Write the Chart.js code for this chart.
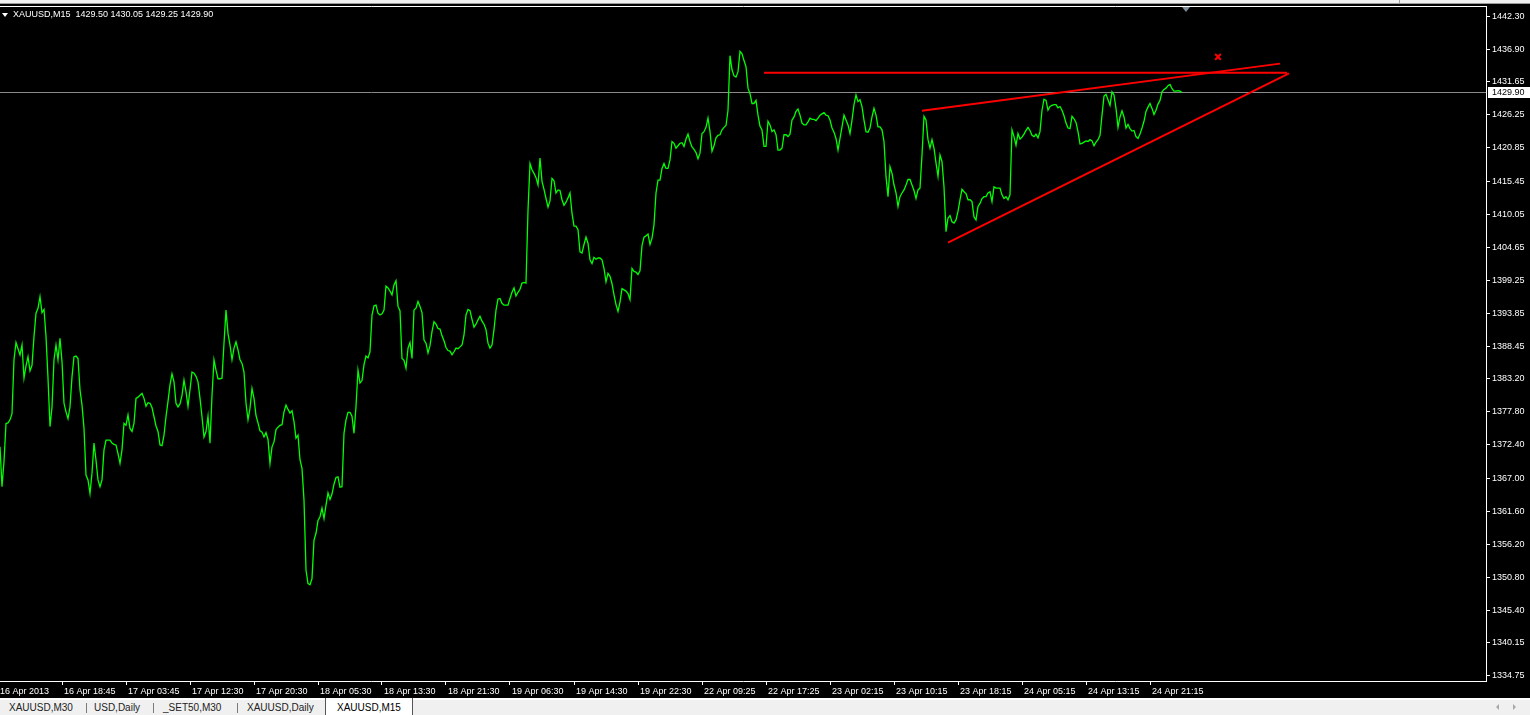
<!DOCTYPE html>
<html><head><meta charset="utf-8">
<script src="https://cdn.jsdelivr.net/npm/chart.js@4.4.1/dist/chart.umd.min.js"></script>
<style>
html,body{margin:0;padding:0;background:#000;}
body{width:1530px;height:715px;position:relative;overflow:hidden;font-family:'Liberation Sans',Arial,sans-serif;}
#wrap{position:absolute;left:0;top:0;width:1530px;height:698px;}
#topstrip{position:absolute;left:0;top:0;width:1530px;height:3px;background:#f0f0f0;border-bottom:1px solid #9a9a9a;}
#topsep{position:absolute;left:1399px;top:0;width:1px;height:3px;background:#a0a0a0;}
#title{position:absolute;left:13px;top:9px;color:#fff;font-size:9px;line-height:11px;white-space:pre;}
#tri{position:absolute;left:2px;top:13px;width:0;height:0;border-left:3px solid transparent;border-right:3px solid transparent;border-top:4px solid #fff;}
#shift{position:absolute;left:1182px;top:7px;width:0;height:0;border-left:4px solid transparent;border-right:4px solid transparent;border-top:5px solid #7d8a96;}
#tabbar{position:absolute;left:0;top:698px;width:1530px;height:15px;background:#f0f0f0;border-top:2px solid #fff;font-size:10px;color:#222;}
.tab{position:absolute;top:2px;white-space:pre;line-height:12px;}
.sep{position:absolute;top:3px;width:1px;height:10px;background:#7a7a7a;}
#active{position:absolute;left:325px;top:-2px;width:86px;height:17px;background:#fff;border-left:1px solid #555;border-right:1px solid #555;}
.arrL{position:absolute;top:4px;width:0;height:0;border-top:3px solid transparent;border-bottom:3px solid transparent;border-right:3px solid #a8a8a8;}
.arrR{position:absolute;top:4px;width:0;height:0;border-top:3px solid transparent;border-bottom:3px solid transparent;border-left:3px solid #a8a8a8;}
</style></head>
<body>
<div id="wrap"><canvas id="c"></canvas></div>
<div id="topstrip"></div><div id="topsep"></div>
<div id="tri"></div>
<div id="title">XAUUSD,M15  1429.50 1430.05 1429.25 1429.90</div>
<div id="shift"></div>
<div id="tabbar">
  <span class="tab" style="left:9px">XAUUSD,M30</span>
  <div class="sep" style="left:86px"></div>
  <span class="tab" style="left:94px">USD,Daily</span>
  <div class="sep" style="left:153px"></div>
  <span class="tab" style="left:163px">_SET50,M30</span>
  <div class="sep" style="left:237px"></div>
  <span class="tab" style="left:247px">XAUUSD,Daily</span>
  <div id="active"><span class="tab" style="left:11px;top:4px;color:#000">XAUUSD,M15</span></div>
  <div class="arrL" style="left:1496px"></div>
  <div class="arrR" style="left:1513px"></div>
</div>
<script>
// ---- data (M15 closes, one per bar) ----
const closes = [
 1372.1,1365.6,1369.7,1375.9,1376.0,1376.5,1377.5,1386.3,1389.1,1388.1,
 1387.1,1388.7,1383.3,1385.3,1386.8,1384.5,1385.4,1390.1,1393.9,1394.7,
 1396.6,1394.0,1394.5,1390.1,1383.3,1375.4,1378.6,1386.3,1388.7,1386.3,
 1389.8,1386.0,1379.2,1377.8,1376.7,1378.6,1383.5,1386.8,1386.9,1386.5,
 1381.4,1378.9,1375.1,1367.5,1366.7,1364.5,1367.8,1372.7,1369.9,1366.7,
 1365.6,1366.7,1371.6,1373.2,1373.2,1373.2,1372.7,1372.5,1372.4,1371.0,
 1369.4,1371.6,1375.9,1375.6,1377.3,1375.1,1374.6,1375.9,1380.0,1380.2,
 1380.5,1380.8,1380.0,1378.7,1379.3,1379.2,1378.5,1377.0,1375.5,1374.6,
 1372.4,1372.3,1374.0,1377.0,1379.5,1382.2,1384.0,1382.7,1379.2,1378.6,
 1379.1,1380.5,1383.0,1381.1,1378.7,1381.4,1384.3,1384.1,1383.6,1382.7,
 1380.0,1377.0,1373.7,1374.6,1377.1,1372.7,1380.5,1386.3,1384.6,1383.2,
 1383.2,1383.3,1389.0,1394.4,1390.6,1388.7,1386.3,1388.2,1389.2,1387.9,
 1386.3,1385.7,1384.3,1379.2,1376.5,1378.4,1381.6,1380.0,1377.2,1376.0,
 1374.7,1374.5,1373.7,1374.4,1373.3,1369.4,1372.1,1372.9,1374.9,1375.3,
 1375.6,1375.7,1377.8,1378.9,1378.2,1377.6,1378.0,1376.2,1373.5,1374.0,
 1370.0,1368.6,1363.4,1352.0,1349.8,1349.6,1350.6,1356.9,1358.0,1360.1,
 1360.7,1362.1,1360.4,1362.6,1364.6,1363.5,1364.4,1366.0,1367.1,1367.2,
 1365.5,1365.6,1374.3,1376.5,1377.7,1377.7,1377.1,1374.3,1378.7,1384.6,
 1382.5,1382.9,1385.5,1386.9,1386.6,1387.6,1393.6,1395.1,1395.2,1393.9,
 1393.6,1393.8,1394.4,1398.3,1398.0,1397.5,1396.9,1398.5,1399.2,1395.0,
 1394.3,1386.5,1386.2,1384.9,1388.2,1389.1,1386.5,1394.4,1394.7,1395.8,
 1395.0,1394.0,1389.5,1389.0,1387.4,1388.6,1390.9,1392.5,1392.1,1391.4,
 1391.3,1390.2,1389.4,1388.3,1387.8,1387.7,1387.1,1387.6,1388.2,1388.1,
 1388.4,1388.7,1390.3,1393.6,1394.5,1394.3,1392.9,1391.6,1392.1,1392.8,
 1393.4,1392.6,1392.1,1391.2,1389.0,1388.2,1388.7,1391.2,1394.4,1396.2,
 1396.3,1395.5,1395.2,1395.2,1395.2,1396.3,1397.3,1398.0,1396.7,1397.3,
 1397.8,1398.8,1398.9,1398.8,1410.7,1418.3,1417.3,1416.7,1416.0,1414.8,
 1419.2,1415.4,1414.1,1412.6,1411.2,1412.2,1415.9,1415.5,1413.5,1414.0,
 1413.9,1412.4,1411.5,1412.0,1412.7,1413.5,1410.2,1408.1,1408.1,1407.5,
 1403.9,1403.7,1405.1,1406.3,1405.3,1402.6,1402.0,1403.0,1402.7,1402.9,
 1402.9,1402.6,1401.2,1399.0,1400.4,1399.9,1398.7,1396.9,1395.3,1394.2,
 1395.7,1397.9,1397.7,1397.5,1397.1,1396.1,1401.2,1400.7,1400.6,1400.2,
 1400.8,1404.9,1406.3,1406.5,1406.8,1405.1,1406.1,1408.3,1413.5,1415.6,
 1415.6,1417.5,1418.3,1417.5,1417.5,1418.9,1421.9,1421.6,1420.8,1421.2,
 1421.6,1421.7,1421.1,1422.3,1423.1,1421.9,1421.0,1420.6,1420.1,1419.1,
 1420.0,1423.2,1423.5,1424.2,1425.7,1423.5,1420.3,1421.2,1422.5,1422.9,
 1423.0,1423.8,1424.2,1424.5,1427.0,1435.9,1433.6,1432.6,1432.4,1433.3,
 1436.6,1436.2,1435.1,1434.1,1430.6,1429.7,1428.1,1428.1,1428.6,1426.2,
 1424.4,1423.8,1421.1,1421.1,1425.2,1424.6,1423.5,1423.8,1423.0,1420.5,
 1420.5,1420.8,1423.0,1423.0,1422.7,1423.1,1425.4,1425.9,1426.8,1427.2,
 1426.2,1424.9,1424.6,1424.6,1425.1,1425.7,1425.5,1425.5,1425.3,1425.7,
 1426.2,1426.4,1426.6,1426.2,1426.1,1425.4,1424.1,1423.4,1422.4,1420.5,
 1422.4,1424.3,1426.2,1425.4,1424.6,1423.2,1425.4,1427.9,1429.5,1428.4,
 1428.7,1427.6,1425.4,1423.5,1423.4,1424.1,1425.9,1427.3,1426.2,1424.3,
 1424.3,1423.8,1421.9,1416.2,1412.9,1417.8,1416.7,1414.8,1413.5,1411.3,
 1412.9,1413.5,1414.0,1414.8,1415.7,1415.7,1414.8,1413.9,1412.6,1414.0,
 1414.3,1419.7,1426.0,1425.4,1422.2,1420.8,1422.2,1420.8,1418.4,1416.2,
 1419.7,1418.6,1414.5,1407.2,1409.4,1409.8,1408.8,1408.6,1409.1,1410.5,
 1412.4,1414.1,1413.7,1413.4,1412.4,1412.4,1412.1,1409.6,1409.1,1411.3,
 1411.8,1412.6,1412.9,1412.9,1413.5,1413.7,1412.1,1414.5,1414.3,1414.3,
 1414.3,1413.2,1412.6,1412.9,1412.4,1413.2,1423.8,1422.7,1421.3,1423.2,
 1422.3,1422.6,1423.1,1423.7,1424.2,1423.7,1422.9,1422.7,1423.1,1422.5,
 1423.5,1427.0,1428.8,1428.6,1427.0,1427.6,1427.8,1427.9,1427.9,1427.4,
 1427.6,1427.0,1426.1,1424.9,1424.1,1424.0,1426.0,1425.6,1425.0,1423.5,
 1421.5,1421.6,1421.8,1422.0,1421.9,1422.2,1422.0,1421.2,1421.8,1422.2,
 1422.9,1426.2,1429.3,1429.6,1428.7,1427.8,1430.0,1429.5,1427.3,1424.2,
 1425.9,1426.9,1425.9,1424.1,1424.7,1424.0,1423.6,1423.7,1422.7,1422.4,
 1423.1,1424.1,1425.2,1426.8,1427.5,1428.1,1427.3,1426.3,1427.0,1428.0,
 1428.6,1430.0,1430.4,1430.6,1431.0,1431.2,1430.5,1430.1,1430.1,1430.2,
 1430.1,1429.9
];
const bidPrice = 1429.90;

// trend objects: bar index and price of their end points
const flatLineIdx = [382, 643.5];
const flatLinePrice = [1433.1, 1433.1];
const upperLineIdx = [461, 640];
const upperLinePrice = [1426.9, 1434.6];
const lowerLineIdx = [474, 644.5];
const lowerLinePrice = [1405.4, 1433.0];
const markIdx = [609];
const markPrice = [1435.7];

// axis ticks
const xTickIdx = [-1,31,63,95,127,159,191,223,255,287,319,351,383,415,447,479,511,543,575];
const xTickLabels = ['16 Apr 2013','16 Apr 18:45','17 Apr 03:45','17 Apr 12:30','17 Apr 20:30',
  '18 Apr 05:30','18 Apr 13:30','18 Apr 21:30','19 Apr 06:30','19 Apr 14:30','19 Apr 22:30',
  '22 Apr 09:25','22 Apr 17:25','23 Apr 02:15','23 Apr 10:15','23 Apr 18:15','24 Apr 05:15',
  '24 Apr 13:15','24 Apr 21:15'];
const yTickVals = [1442.30,1436.90,1431.65,1426.25,1420.85,1415.45,1410.05,1404.65,1399.25,1393.85,
  1388.45,1383.20,1377.80,1372.40,1367.00,1361.60,1356.20,1350.80,1345.40,1340.15,1334.75];

const FONT = "'Liberation Sans', Arial, sans-serif";
const pairs = (xs, ys) => xs.map((x, i) => ({x: x, y: ys[i]}));

const mtPlugin = {
  id: 'mt',
  beforeDatasetsDraw(chart) {
    const {ctx, chartArea: a, scales} = chart;
    const y = Math.round(scales.y.getPixelForValue(bidPrice)) + 0.5;
    ctx.save();
    ctx.strokeStyle = '#8a8a8a';
    ctx.lineWidth = 1;
    ctx.beginPath(); ctx.moveTo(a.left, y); ctx.lineTo(a.right, y); ctx.stroke();
    ctx.restore();
  },
  afterDraw(chart) {
    const {ctx, chartArea: a, scales} = chart;
    ctx.save();
    ctx.strokeStyle = '#fff';
    ctx.lineWidth = 1;
    ctx.beginPath(); ctx.moveTo(a.left, Math.round(a.top) + 0.5); ctx.lineTo(a.right + 1, Math.round(a.top) + 0.5); ctx.stroke();
    const y = Math.round(scales.y.getPixelForValue(bidPrice));
    ctx.fillStyle = '#fff';
    ctx.fillRect(a.right + 2, y - 5, chart.width - a.right - 2, 11);
    ctx.fillStyle = '#000';
    ctx.font = '9px ' + FONT;
    ctx.textBaseline = 'middle';
    ctx.textAlign = 'left';
    ctx.fillText(bidPrice.toFixed(2), a.right + 6, y + 0.5);
    ctx.restore();
  }
};

new Chart(document.getElementById('c'), {
  data: {
    datasets: [
      { type: 'line', data: pairs(flatLineIdx, flatLinePrice), borderColor: '#ff0000', borderWidth: 2, pointRadius: 0, order: 0 },
      { type: 'line', data: pairs(upperLineIdx, upperLinePrice), borderColor: '#ff0000', borderWidth: 2, pointRadius: 0, order: 0 },
      { type: 'line', data: pairs(lowerLineIdx, lowerLinePrice), borderColor: '#ff0000', borderWidth: 2, pointRadius: 0, order: 0 },
      { type: 'scatter', data: pairs(markIdx, markPrice), pointStyle: 'crossRot', pointRadius: 4, borderColor: '#ff0000', backgroundColor: '#ff0000', borderWidth: 2, order: 0 },
      { type: 'line', label: 'XAUUSD,M15', data: closes.map((v, i) => ({x: i, y: v})), borderColor: '#00ff00', borderWidth: 1.3, pointRadius: 0, tension: 0, order: 5 }
    ]
  },
  options: {
    responsive: true, maintainAspectRatio: false, animation: false,
    layout: { autoPadding: false, padding: { top: 6, left: 0, right: 0, bottom: 0 } },
    plugins: { legend: { display: false }, tooltip: { enabled: false }, title: { display: false } },
    scales: {
      x: {
        type: 'linear', position: 'bottom', min: 0, max: 743,
        afterBuildTicks: s => { s.ticks = xTickIdx.map(v => ({value: v})); },
        afterFit: s => { s.height = 17; s.paddingLeft = 0; s.paddingRight = 0; },
        ticks: { autoSkip: false, maxRotation: 0, minRotation: 0, align: 'start', labelOffset: 2, padding: 1,
                 color: '#fff', font: { family: FONT, size: 9 }, callback: (v, i) => xTickLabels[i] },
        grid: { display: true, drawOnChartArea: false, drawTicks: true, tickLength: 4, color: '#fff', lineWidth: 1 },
        border: { display: true, color: '#fff', width: 1 }
      },
      y: {
        type: 'linear', position: 'right', min: 1333.9, max: 1444.0,
        afterBuildTicks: s => { s.ticks = yTickVals.map(v => ({value: v})); },
        afterFit: s => { s.width = 44; s.paddingTop = 0; s.paddingBottom = 0; },
        ticks: { autoSkip: false, padding: 2, color: '#fff', font: { family: FONT, size: 9 }, callback: v => Number(v).toFixed(2) },
        grid: { display: true, drawOnChartArea: false, drawTicks: true, tickLength: 4, color: '#fff', lineWidth: 1 },
        border: { display: true, color: '#fff', width: 1 }
      }
    }
  },
  plugins: [mtPlugin]
});
</script>
</body></html>
